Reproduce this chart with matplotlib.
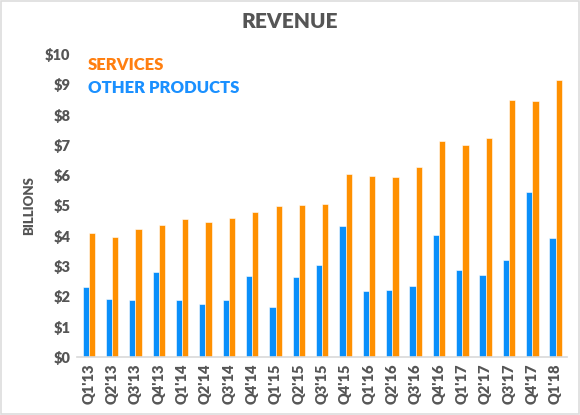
import numpy as np
import matplotlib
matplotlib.use('Agg')
import matplotlib.pyplot as plt
from matplotlib.patches import Rectangle
from matplotlib import font_manager

# quarters and revenue (billions USD)
quarters = ["Q1'13", "Q2'13", "Q3'13", "Q4'13", "Q1'14", "Q2'14", "Q3'14", "Q4'14",
            "Q1'15", "Q2'15", "Q3'15", "Q4'15", "Q1'16", "Q2'16", "Q3'16", "Q4'16",
            "Q1'17", "Q2'17", "Q3'17", "Q4'17", "Q1'18"]
services = [4.09, 3.96, 4.23, 4.36, 4.54, 4.45, 4.57, 4.78,
            4.97, 5.00, 5.05, 6.03, 5.96, 5.94, 6.28, 7.14,
            7.00, 7.24, 8.47, 8.45, 9.15]
other_products = [2.31, 1.90, 1.88, 2.80, 1.87, 1.75, 1.88, 2.66,
                  1.66, 2.63, 3.02, 4.33, 2.16, 2.21, 2.35, 4.01,
                  2.86, 2.71, 3.20, 5.45, 3.93]
yticks = [0, 1, 2, 3, 4, 5, 6, 7, 8, 9, 10]

orange = '#ff9000'
blue = '#0a8ffa'
grey = '#555555'

# pick a family that has a real bold face
fam = 'Lato'
lato = [f for f in font_manager.fontManager.ttflist if f.name == 'Lato']
if not any(f.weight in (700, 800, 900, 'bold') for f in lato):
    fam = 'Open Sans'
plt.rcParams['font.family'] = [fam, 'DejaVu Sans']
bold = 'heavy'

fig = plt.figure(figsize=(5.8, 4.15), dpi=100)
ax = fig.add_axes([0.133, 0.140, 0.845, 0.730])

x = np.arange(len(quarters))
w = 0.27
ax.bar(x - w / 2, other_products, w, color=blue, edgecolor='white', linewidth=0.4)
ax.bar(x + w / 2, services, w, color=orange, edgecolor='white', linewidth=0.4)

ax.set_xlim(-0.5, len(quarters) - 0.5)
ax.set_ylim(0, 10)
ax.set_yticks(yticks)
ax.set_yticklabels(['$%d' % v for v in yticks], fontsize=10.5, fontweight=bold, color=grey)
ax.set_xticks(x)
ax.set_xticklabels(quarters, rotation=90, fontsize=10.5, fontweight=bold, color=grey)
ax.tick_params(length=0, pad=5)

for s in ['top', 'right', 'left']:
    ax.spines[s].set_visible(False)
ax.spines['bottom'].set_color('#d9d9d9')
ax.spines['bottom'].set_linewidth(1.2)

ax.set_ylabel('BILLIONS', fontsize=9.5, fontweight=bold, color=grey, labelpad=7)

fig.text(0.5, 0.947, 'REVENUE', ha='center', va='center', fontsize=15,
         fontweight=bold, color=grey)
fig.text(0.152, 0.843, 'SERVICES', ha='left', va='center', fontsize=12,
         fontweight=bold, color='#ff7f10')
fig.text(0.152, 0.787, 'OTHER PRODUCTS', ha='left', va='center', fontsize=12,
         fontweight=bold, color='#1a90ff')

fig.patches.append(Rectangle((0.002, 0.003), 0.996, 0.994, transform=fig.transFigure,
                             fill=False, edgecolor='#dddddd', linewidth=1.2))

fig.savefig('out.png', dpi=100)
